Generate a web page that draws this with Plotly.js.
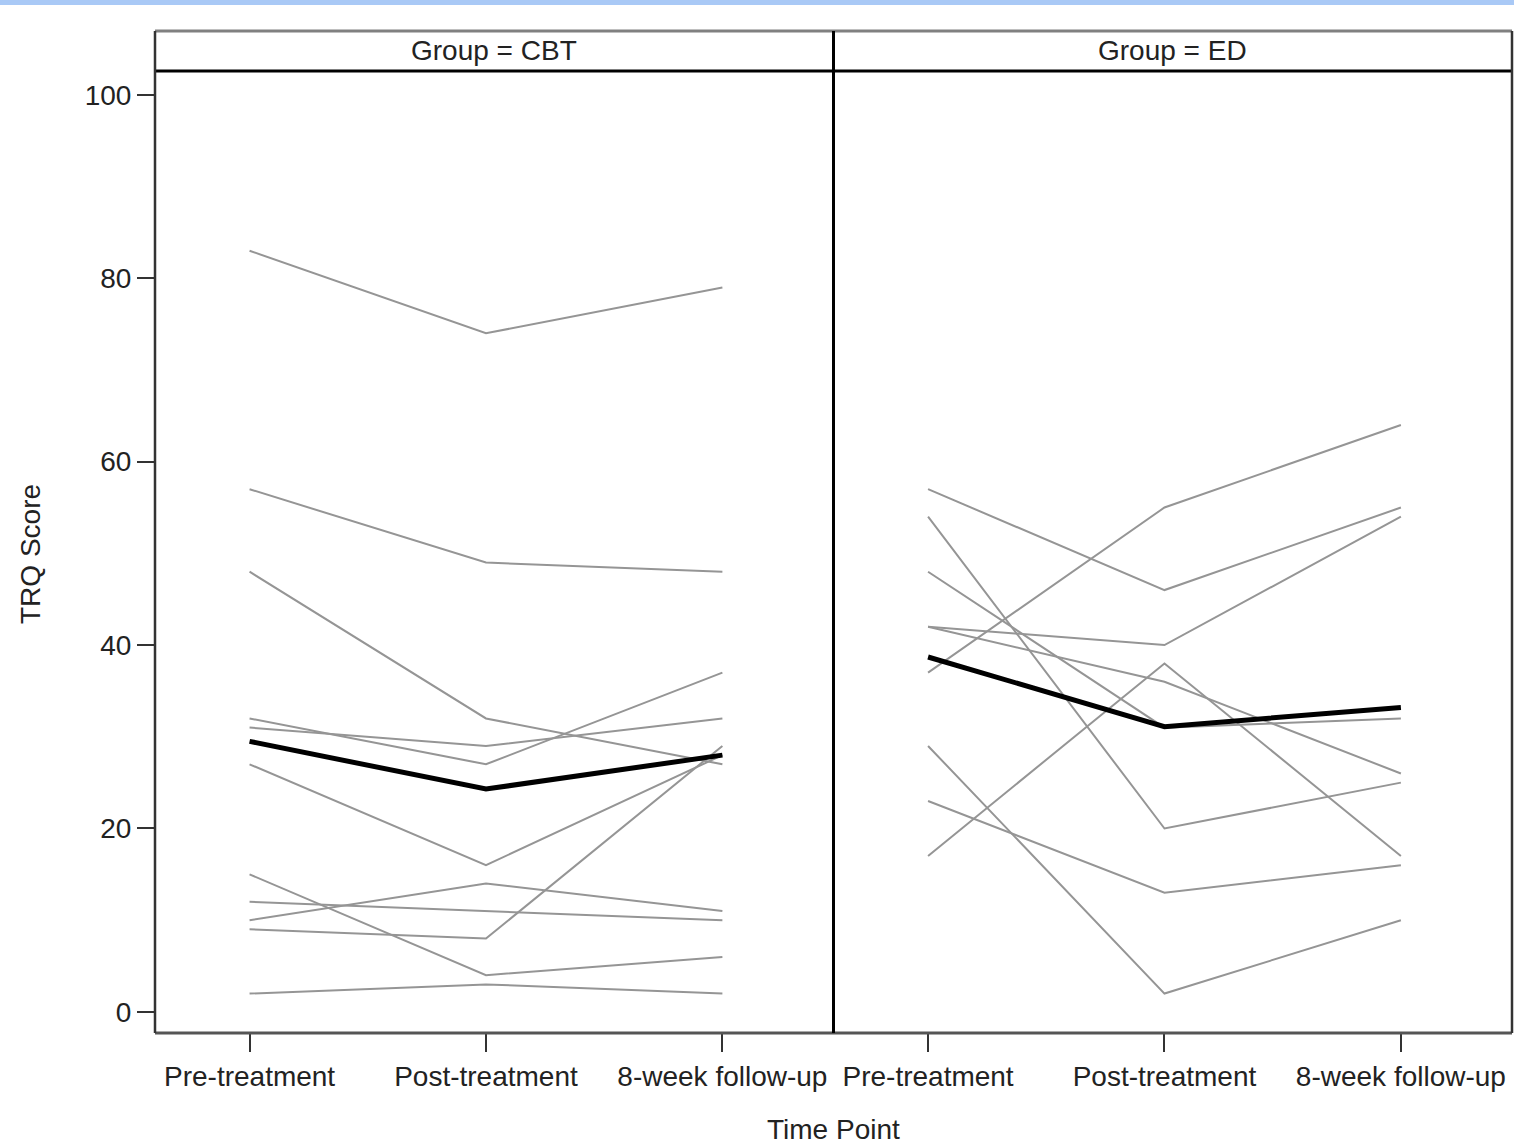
<!DOCTYPE html>
<html>
<head>
<meta charset="utf-8">
<script src="https://cdn.plot.ly/plotly-3.0.1.min.js"></script>
<style>
  html, body { margin: 0; padding: 0; background: #fff; }
  #chart { width: 1514px; height: 1144px; position: absolute; left: 0; top: 0; }
  #topbar { position: absolute; left: 0; top: 0; width: 1514px; height: 5px; background: #a9c9f6; z-index: 10; }
</style>
</head>
<body>
<div id="topbar"></div>
<div id="chart"></div>
<script>
// ---- data ----
const timeLabels = ["Pre-treatment", "Post-treatment", "8-week follow-up"];
const groups = ["CBT", "ED"];

// CBT subjects (one entry per subject)
const cbt_pre    = [83, 57, 48, 32, 31, 27, 15, 12, 10, 9, 2];
const cbt_post   = [74, 49, 32, 27, 29, 16, 4, 11, 14, 8, 3];
const cbt_follow = [79, 48, 27, 37, 32, 28, 6, 10, 11, 29, 2];
const cbt_mean   = [29.5, 24.3, 28.0];

// ED subjects
const ed_pre    = [57, 54, 48, 42, 42, 37, 29, 23, 17];
const ed_post   = [46, 20, 31, 40, 36, 55, 2, 13, 38];
const ed_follow = [55, 25, 32, 54, 26, 64, 10, 16, 17];
const ed_mean   = [38.7, 31.1, 33.2];

const yTicks = [0, 20, 40, 60, 80, 100];

// ---- build traces ----
const xIdx = timeLabels.map((_, i) => i);
const traces = [];
function addGroup(pre, post, follow, mean, xa) {
  for (let i = 0; i < pre.length; i++) {
    traces.push({
      type: "scatter", mode: "lines", xaxis: xa, yaxis: "y",
      x: xIdx, y: [pre[i], post[i], follow[i]],
      line: { color: "#959595", width: 2 }, hoverinfo: "y", showlegend: false
    });
  }
  traces.push({
    type: "scatter", mode: "lines", xaxis: xa, yaxis: "y",
    x: xIdx, y: mean,
    line: { color: "#000000", width: 5 }, showlegend: false
  });
}
addGroup(cbt_pre, cbt_post, cbt_follow, cbt_mean, "x");
addGroup(ed_pre, ed_post, ed_follow, ed_mean, "x2");

// ---- layout ----
const W = 1514, H = 1144;
const mL = 155, mR = 2, mT = 31, mB = 111;
const plotH = H - mT - mB;   // 1002
const plotW = W - mL - mR;
const headerPx = 40;
const yTop = (plotH - headerPx) / plotH;

const font = { family: "Liberation Sans, Arial, sans-serif", size: 28, color: "#222222" };

const xCommon = {
  range: [-0.4, 2.47], tickvals: xIdx, ticktext: timeLabels,
  ticks: "outside", ticklen: 18, tickwidth: 2, tickcolor: "#333",
  showgrid: false, zeroline: false, showline: false,
  tickfont: font, fixedrange: true
};

const layout = {
  width: W, height: H,
  margin: { l: mL, r: mR, t: mT, b: mB, pad: 0 },
  paper_bgcolor: "#ffffff", plot_bgcolor: "#ffffff",
  font: font,
  showlegend: false,
  xaxis: Object.assign({}, xCommon, { domain: [0, 0.5], anchor: "y" }),
  xaxis2: Object.assign({}, xCommon, { domain: [0.5, 1], anchor: "y" }),
  yaxis: {
    domain: [0, yTop], range: [-2.3, 102.6], tickvals: yTicks,
    ticks: "outside", ticklen: 17, tickwidth: 2, tickcolor: "#333",
    showgrid: false, zeroline: false, showline: false,
    tickfont: font, fixedrange: true, anchor: "x"
  },
  shapes: [
    { type: "line", xref: "paper", yref: "paper", x0: 0, x1: 1, y0: 1, y1: 1, line: { color: "#808080", width: 3 } },
    { type: "line", xref: "paper", yref: "paper", x0: 0, x1: 1, y0: yTop, y1: yTop, line: { color: "#000000", width: 3 } },
    { type: "line", xref: "paper", yref: "paper", x0: 0, x1: 1, y0: 0, y1: 0, line: { color: "#555555", width: 3 } },
    { type: "line", xref: "paper", yref: "paper", x0: 0, x1: 0, y0: 0, y1: 1, line: { color: "#333333", width: 2.5 } },
    { type: "line", xref: "paper", yref: "paper", x0: 1, x1: 1, y0: 0, y1: 1, line: { color: "#333333", width: 2.5 } },
    { type: "line", xref: "paper", yref: "paper", x0: 0.5, x1: 0.5, y0: 0, y1: 1, line: { color: "#000000", width: 3 } }
  ],
  annotations: [
    { xref: "paper", yref: "paper", x: 0.25, y: (yTop + 1) / 2, text: "Group = " + groups[0], showarrow: false, xanchor: "center", yanchor: "middle", font: font },
    { xref: "paper", yref: "paper", x: 0.75, y: (yTop + 1) / 2, text: "Group = " + groups[1], showarrow: false, xanchor: "center", yanchor: "middle", font: font },
    { xref: "paper", yref: "paper", x: 0.5, y: -(1129 - (H - mB)) / plotH, text: "Time Point", showarrow: false, xanchor: "center", yanchor: "middle", font: font },
    { xref: "paper", yref: "paper", x: -(mL - 30) / plotW, y: ((H - mB) - 554) / plotH, text: "TRQ Score", textangle: -90, showarrow: false, xanchor: "center", yanchor: "middle", font: font }
  ]
};

Plotly.newPlot("chart", traces, layout, { displayModeBar: false, staticPlot: true });
</script>
</body>
</html>
